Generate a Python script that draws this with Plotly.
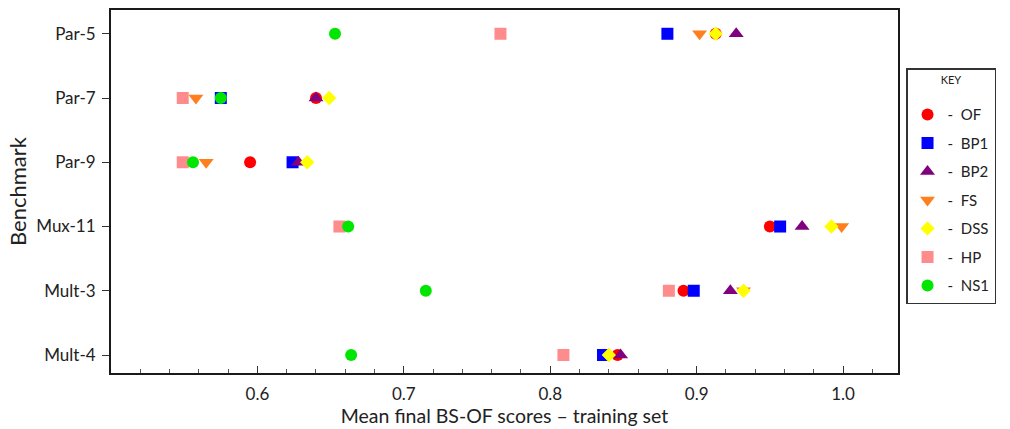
import plotly.graph_objects as go

benchmarks = ["Par-5", "Par-7", "Par-9", "Mux-11", "Mult-3", "Mult-4"]

OF  = [0.913, 0.640, 0.595, 0.950, 0.891, 0.846]
BP1 = [0.880, 0.575, 0.624, 0.957, 0.898, 0.836]
BP2 = [0.927, 0.640, 0.628, 0.972, 0.923, 0.848]
FS  = [0.902, 0.558, 0.565, 0.999, 0.932, None]
DSS = [0.913, 0.649, 0.634, 0.992, 0.932, 0.840]
HP  = [0.766, 0.549, 0.549, 0.656, 0.881, 0.809]
NS1 = [0.653, 0.575, 0.556, 0.662, 0.715, 0.664]

series = [
    ("OF",  OF,  "circle",        "#ff0000", 12),
    ("BP1", BP1, "square",        "#0000ff", 12),
    ("BP2", BP2, "triangle-up",   "#800080", 13),
    ("FS",  FS,  "triangle-down", "#ff7f1e", 13),
    ("DSS", DSS, "diamond",       "#ffff00", 11),
    ("HP",  HP,  "square",        "#ff8c8c", 12),
    ("NS1", NS1, "circle",        "#00e600", 12),
]

FONT = "Lato"

fig = go.Figure()
for name, vals, sym, col, sz in series:
    fig.add_trace(go.Scatter(
        x=vals, y=benchmarks, mode="markers", name="-  " + name,
        legendgroup=name,
        marker=dict(symbol=sym, color=col, size=sz, line=dict(width=0)),
    ))

axis_line = dict(showline=True, linecolor="#1a1a1a", linewidth=2, mirror=True,
                 showgrid=False, zeroline=False)

fig.update_layout(
    width=1010, height=429,
    margin=dict(l=111, r=112, t=8, b=56),
    paper_bgcolor="white", plot_bgcolor="white",
    font=dict(family=FONT, color="#222222"),
    xaxis=dict(
        **axis_line,
        range=[0.5, 1.0375],
        tickvals=[0.6, 0.7, 0.8, 0.9, 1.0],
        ticktext=["0.6", "0.7", "0.8", "0.9", "1.0"],
        ticks="inside", ticklen=7, tickwidth=1, tickcolor="#333333",
        minor=dict(dtick=0.02, ticks="inside", ticklen=4, tickwidth=1, tickcolor="#555555"),
        tickfont=dict(family=FONT, size=17, color="#222222"),
        ticklabelstandoff=5,
        title=dict(text="Mean final BS-OF scores \u2013 training set",
                   font=dict(family=FONT, size=19.5, color="#222222"), standoff=2),
    ),
    yaxis=dict(
        **axis_line,
        type="category",
        categoryorder="array", categoryarray=benchmarks[::-1],
        range=[-0.28, 5.37],
        ticks="outside", ticklen=7, tickwidth=1, tickcolor="#333333",
        tickfont=dict(family=FONT, size=17, color="#222222"),
        ticklabelstandoff=3,
        title=dict(text="Benchmark", font=dict(family=FONT, size=22, color="#222222"),
                   standoff=4),
    ),
    showlegend=True,
    legend=dict(
        x=1.0102, y=0.840, xanchor="left", yanchor="top",
        bgcolor="white", bordercolor="#333333", borderwidth=1.5,
        font=dict(family=FONT, size=15, color="#222222"),
        title=dict(text="KEY<br> ", side="top center",
                   font=dict(family=FONT, size=11, color="#222222")),
        tracegroupgap=6,
        itemwidth=30,
    ),
)

fig.write_html("out.html")
